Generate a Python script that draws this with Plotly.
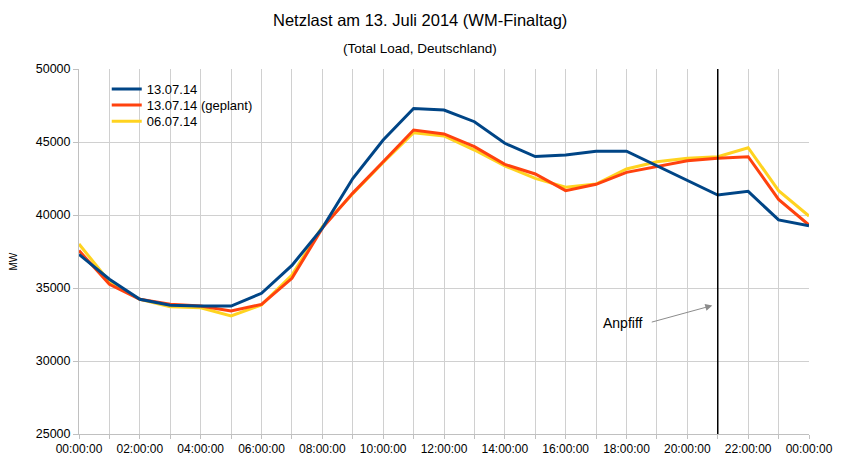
import plotly.graph_objects as go

hours = list(range(25))
tick_vals = list(range(25))
tick_text = ["%02d:00:00" % (h % 24) if h % 2 == 0 else "" for h in hours]

load_1307 = [37300, 35600, 34230, 33820, 33770, 33760, 34640, 36550, 39100, 42500,
             45140, 47300, 47190, 46390, 44910, 44000, 44110, 44370, 44370, 43360,
             42350, 41370, 41620, 39660, 39270]
load_1307_plan = [37560, 35250, 34230, 33880, 33770, 33420, 33880, 35660, 39100, 41500,
                  43650, 45820, 45550, 44680, 43470, 42810, 41670, 42100, 42920, 43310,
                  43720, 43880, 43990, 41070, 39310]
load_0607 = [38010, 35430, 34230, 33720, 33650, 33080, 33840, 35890, 39200, 41450,
             43600, 45640, 45410, 44450, 43360, 42510, 41900, 42120, 43150, 43650,
             43880, 43990, 44610, 41670, 39930]

series_names = ["13.07.14", "13.07.14 (geplant)", "06.07.14"]
kickoff_hour = 21

fig = go.Figure()
fig.add_trace(go.Scatter(x=hours, y=load_0607, name=series_names[2], mode="lines",
                         legend="legend3", line=dict(color="#ffd320", width=3)))
fig.add_trace(go.Scatter(x=hours, y=load_1307_plan, name=series_names[1], mode="lines",
                         legend="legend2", line=dict(color="#ff420e", width=3)))
fig.add_trace(go.Scatter(x=hours, y=load_1307, name=series_names[0], mode="lines",
                         legend="legend", line=dict(color="#004586", width=3)))

fig.add_shape(type="line", x0=kickoff_hour, x1=kickoff_hour, y0=0, y1=1,
              xref="x", yref="paper", line=dict(color="black", width=1.5))

leg = dict(x=0.038, xanchor="left", yanchor="middle", font=dict(size=13),
           bgcolor="rgba(0,0,0,0)")

fig.update_layout(
    width=841, height=468,
    margin=dict(l=71, r=40, t=61, b=42, autoexpand=False),
    paper_bgcolor="white", plot_bgcolor="white",
    font=dict(family="Liberation Sans, Arial, sans-serif", color="black"),
    showlegend=True,
    legend=dict(leg, y=0.945),
    legend2=dict(leg, y=0.901),
    legend3=dict(leg, y=0.857),
    annotations=[
        dict(x=20.82, y=33800, xref="x", yref="y", ax=-62, ay=17, text="",
             showarrow=True, arrowhead=2, arrowsize=1.4, arrowwidth=1,
             arrowcolor="#8c8c8c"),
        dict(x=18.0, y=32600, xref="x", yref="y", xshift=-4, yshift=0, text="Anpfiff",
             showarrow=False, font=dict(size=14)),
        dict(text="Netzlast am 13. Juli 2014 (WM-Finaltag)", xref="paper", yref="paper",
             x=0.467, y=1.0, yanchor="middle", yshift=49, showarrow=False,
             font=dict(size=16.5)),
        dict(text="(Total Load, Deutschland)", xref="paper", yref="paper",
             x=0.467, y=1.0, yanchor="middle", yshift=21, showarrow=False,
             font=dict(size=13.5)),
        dict(text="MW", xref="paper", yref="paper", x=0, y=0.471, xshift=-73,
             textangle=-90, showarrow=False, font=dict(size=10)),
    ],
)

fig.update_xaxes(range=[0, 24], tickvals=tick_vals, ticktext=tick_text, automargin=False,
                 showgrid=True, gridcolor="#d0d0d0", gridwidth=1,
                 showline=True, linecolor="#c0c0c0", linewidth=1,
                 ticks="outside", ticklen=4, tickcolor="#c0c0c0",
                 tickfont=dict(size=12), zeroline=False)
fig.update_yaxes(range=[25000, 50000], dtick=5000, tickformat="d", automargin=False,
                 showgrid=True, gridcolor="#d0d0d0", gridwidth=1,
                 showline=True, linecolor="#c0c0c0", linewidth=1,
                 ticks="outside", ticklen=5, tickcolor="#c0c0c0",
                 tickfont=dict(size=12.5), zeroline=False)

fig.write_html("out.html")
